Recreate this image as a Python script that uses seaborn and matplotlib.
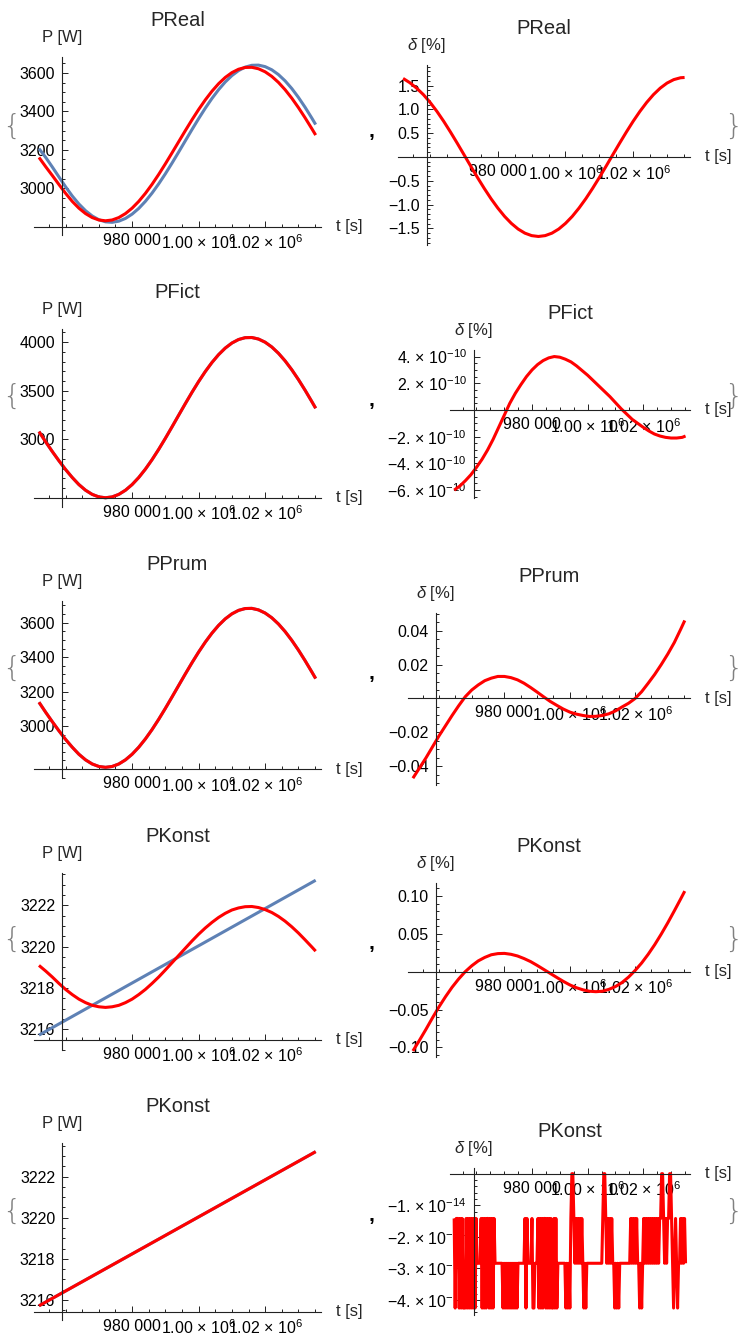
import numpy as np
import matplotlib
matplotlib.use("Agg")
import matplotlib.pyplot as plt
from matplotlib.ticker import MultipleLocator
import seaborn as sns

# ---------------------------------------------------------------- data
# sample times of the power curves [s]
t = [952000, 954000, 956000, 958000, 960000, 962000, 964000, 966000, 968000,
     970000, 972000, 974000, 976000, 978000, 980000, 982000, 984000, 986000,
     988000, 990000, 992000, 994000, 996000, 998000, 1000000, 1002000,
     1004000, 1006000, 1008000, 1010000, 1012000, 1014000, 1016000, 1018000,
     1020000, 1022000, 1024000, 1026000, 1028000, 1030000, 1032000, 1034000,
     1035200]

# PReal: reference power (blue), fitted power (red) [W], deviation [%]
preal_ref = [3206, 3160.5, 3110.3, 3058.5, 3007.1, 2959.2, 2917.5, 2882.6,
             2855.1, 2835.6, 2824.5, 2822.0, 2828.0, 2842.3, 2864.7, 2894.5,
             2931.4, 2974.3, 3022.5, 3074.8, 3130.4, 3188.0, 3246.6, 3305.0,
             3361.9, 3416.2, 3466.9, 3512.7, 3552.8, 3586.1, 3612.2, 3630.3,
             3639.8, 3640.7, 3632.9, 3616.4, 3591.5, 3558.8, 3519.1, 3472.9,
             3421.5, 3366.0, 3331.1]
preal_fit = [3160, 3112, 3066, 3019, 2973, 2931.1, 2895.8, 2867.5, 2846.8,
             2834.2, 2830, 2834.2, 2846.8, 2867.5, 2895.8, 2931.1, 2972.9,
             3020.0, 3071.6, 3126.5, 3183.6, 3241.6, 3299.4, 3355.8, 3409.5,
             3459.4, 3504.5, 3543.8, 3576.4, 3601.7, 3619.2, 3628.5, 3629.3,
             3621.7, 3605.9, 3582.1, 3550.8, 3512.8, 3468.9, 3419.8, 3366.8,
             3310.9, 3276.4]
preal_delta = [1.65, 1.56, 1.446, 1.310, 1.146, 0.958, 0.750, 0.525, 0.290,
               0.049, -0.194, -0.432, -0.661, -0.877, -1.073, -1.248, -1.395,
               -1.514, -1.600, -1.652, -1.670, -1.652, -1.600, -1.514, -1.395,
               -1.248, -1.073, -0.877, -0.661, -0.432, -0.194, 0.049, 0.290,
               0.525, 0.750, 0.958, 1.146, 1.310, 1.446, 1.552, 1.625, 1.664,
               1.670]

# PFict
pfict_fit = [3080, 2975, 2875, 2780, 2690, 2608.3, 2535.5, 2477.2, 2434.6,
             2408.7, 2400, 2408.7, 2434.6, 2477.2, 2535.5, 2608.3, 2694.3,
             2791.4, 2897.6, 3010.7, 3128.3, 3248.0, 3367.0, 3483.1, 3593.8,
             3696.6, 3789.4, 3870.3, 3937.6, 3989.7, 4025.8, 4044.9, 4046.6,
             4030.9, 3998.3, 3949.3, 3884.9, 3806.7, 3716.1, 3615.1, 3505.8,
             3390.6, 3319.7]
pfict_ref = [3080, 2975, 2875, 2780, 2690, 2608.3, 2535.5, 2477.2, 2434.6,
             2408.7, 2400, 2408.7, 2434.6, 2477.2, 2535.5, 2608.3, 2694.3,
             2791.4, 2897.6, 3010.7, 3128.3, 3248.0, 3367.0, 3483.1, 3593.8,
             3696.6, 3789.4, 3870.3, 3937.6, 3989.7, 4025.8, 4044.9, 4046.6,
             4030.9, 3998.3, 3949.3, 3884.9, 3806.7, 3716.1, 3615.1, 3505.8,
             3390.6, 3319.7]
pfict_delta = [-6.0e-10, -5.7e-10, -5.3e-10, -4.85e-10, -4.3e-10, -3.7e-10,
               -3.0e-10, -2.2e-10, -1.3e-10, -0.4e-10, 0.5e-10, 1.25e-10,
               1.9e-10, 2.5e-10, 3.0e-10, 3.4e-10, 3.7e-10, 3.9e-10, 4.0e-10,
               3.95e-10, 3.8e-10, 3.6e-10, 3.3e-10, 2.95e-10, 2.6e-10,
               2.2e-10, 1.8e-10, 1.4e-10, 1.0e-10, 0.55e-10, 0.1e-10,
               -0.3e-10, -0.7e-10, -1.0e-10, -1.3e-10, -1.57e-10, -1.8e-10,
               -1.95e-10, -2.05e-10, -2.1e-10, -2.1e-10, -2.05e-10, -1.95e-10]

# PPrum
pprum_fit = [3138, 3080, 3025, 2972, 2922, 2876.8, 2836.0, 2803.3, 2779.4,
             2764.9, 2760, 2764.9, 2779.4, 2803.3, 2836.0, 2876.8, 2925.0,
             2979.4, 3039.0, 3102.4, 3168.4, 3235.4, 3302.2, 3367.3, 3429.3,
             3487.0, 3539.0, 3584.4, 3622.1, 3651.3, 3671.5, 3682.2, 3683.2,
             3674.4, 3656.1, 3628.7, 3592.6, 3548.7, 3497.9, 3441.3, 3380.0,
             3315.4, 3275.6]
pprum_ref = [3138, 3080, 3025, 2972, 2922, 2876.8, 2836.0, 2803.3, 2779.4,
             2764.9, 2760, 2764.9, 2779.4, 2803.3, 2836.0, 2876.8, 2925.0,
             2979.4, 3039.0, 3102.4, 3168.4, 3235.4, 3302.2, 3367.3, 3429.3,
             3487.0, 3539.0, 3584.4, 3622.1, 3651.3, 3671.5, 3682.2, 3683.2,
             3674.4, 3656.1, 3628.7, 3592.6, 3548.7, 3497.9, 3441.3, 3380.0,
             3315.4, 3275.6]
pprum_delta = [-0.047, -0.041, -0.035, -0.0285, -0.022, -0.016, -0.010,
               -0.0043, 0.001, 0.005, 0.008, 0.0105, 0.012, 0.013, 0.013,
               0.0123, 0.011, 0.009, 0.0065, 0.0038, 0.001, -0.0017, -0.004,
               -0.0062, -0.008, -0.0092, -0.010, -0.0106, -0.0105, -0.010,
               -0.009, -0.0073, -0.005, -0.0028, 0.000, 0.004, 0.009, 0.0142,
               0.020, 0.0262, 0.033, 0.041, 0.046]

# PKonst: linear reference (blue) against the daily curve (red)
pkonst_ref = [3215.72, 3215.90, 3216.08, 3216.26, 3216.44, 3216.62, 3216.80,
              3216.98, 3217.16, 3217.34, 3217.52, 3217.70, 3217.88, 3218.06,
              3218.24, 3218.42, 3218.60, 3218.78, 3218.96, 3219.14, 3219.32,
              3219.50, 3219.68, 3219.86, 3220.04, 3220.22, 3220.40, 3220.58,
              3220.76, 3220.94, 3221.12, 3221.30, 3221.48, 3221.66, 3221.84,
              3222.02, 3222.20, 3222.38, 3222.56, 3222.74, 3222.92, 3223.10,
              3223.21]
pkonst_fit = [3219.09, 3218.82, 3218.53, 3218.22, 3217.93, 3217.68, 3217.46,
              3217.29, 3217.16, 3217.09, 3217.06, 3217.09, 3217.16, 3217.29,
              3217.46, 3217.68, 3217.93, 3218.22, 3218.53, 3218.87, 3219.22,
              3219.57, 3219.92, 3220.27, 3220.60, 3220.90, 3221.17, 3221.41,
              3221.61, 3221.77, 3221.87, 3221.93, 3221.94, 3221.89, 3221.79,
              3221.65, 3221.46, 3221.23, 3220.96, 3220.66, 3220.33, 3219.99,
              3219.78]
pkonst_delta = [-0.1047, -0.0907, -0.0761, -0.0609, -0.0463, -0.0329, -0.0205,
                -0.0096, 0.0000, 0.0078, 0.0143, 0.0189, 0.0224, 0.0239,
                0.0242, 0.0230, 0.0208, 0.0174, 0.0134, 0.0084, 0.0031,
                -0.0022, -0.0075, -0.0127, -0.0174, -0.0211, -0.0239, -0.0258,
                -0.0264, -0.0258, -0.0233, -0.0196, -0.0143, -0.0071, 0.0016,
                0.0115, 0.0230, 0.0357, 0.0497, 0.0646, 0.0804, 0.0966, 0.1065]

# PKonst fitted with the linear model itself
pkonst_lin = [3215.72, 3215.90, 3216.08, 3216.26, 3216.44, 3216.62, 3216.80,
              3216.98, 3217.16, 3217.34, 3217.52, 3217.70, 3217.88, 3218.06,
              3218.24, 3218.42, 3218.60, 3218.78, 3218.96, 3219.14, 3219.32,
              3219.50, 3219.68, 3219.86, 3220.04, 3220.22, 3220.40, 3220.58,
              3220.76, 3220.94, 3221.12, 3221.30, 3221.48, 3221.66, 3221.84,
              3222.02, 3222.20, 3222.38, 3222.56, 3222.74, 3222.92, 3223.10,
              3223.21]

# round-off residual: level index per sample (0 = exact, 1..3 = ulp steps)
roundoff_levels = [0.0, -1.42e-14, -2.84e-14, -4.26e-14]
roundoff_codes = [
    "131", "11", "31313", "33", "13131313131", "2222", "13131311313131",
    "22222222", "323232323232323", "2222222", "131", "2222", "13", "3222",
    "13131311313131331313", "22222222", "32323", "1001", "212121212", "323",
    "2222222222222222", "1001", "2121212", "2323232", "2222222222",
    "12121212", "23232", "12121212121212121", "1001", "2121", "1001",
    "2321232", "2121212",
]

x_ticks = [980000, 1000000, 1020000]
x_tick_labels = ["980 000", "1.00 × $\\mathregular{10^{6}}$",
                 "1.02 × $\\mathregular{10^{6}}$"]
titles = ["PReal", "PFict", "PPrum", "PKonst", "PKonst"]

# ---------------------------------------------------------------- style
sns.set_style("white")
plt.rcParams["font.family"] = ["Liberation Sans", "DejaVu Sans"]
plt.rcParams["mathtext.fontset"] = "custom"
plt.rcParams["mathtext.rm"] = "Liberation Sans"
plt.rcParams["mathtext.it"] = "Liberation Sans:italic"
plt.rcParams["mathtext.bf"] = "Liberation Sans:bold"

W, H = 742, 1338
fig = plt.figure(figsize=(W / 100, H / 100), dpi=100)
fig.patch.set_facecolor("white")

BLUE = "#5E81B5"
RED = "#FF0000"
LW = 2.2
AXIS_COL = "#222222"
XLIM = (950500, 1036800)
Y_AXIS_T = 959000
TICK_FS = 11.5
LABEL_FS = 12
TITLE_FS = 14.5


def dec_labels(vals, nd):
    return [f"{v:.{nd}f}".replace("-", "\u2212") for v in vals]


def sci_labels(vals, exp):
    out = []
    for v in vals:
        m = int(round(abs(v) / 10.0 ** exp))
        sign = "\u2212" if v < 0 else ""
        out.append(f"{sign}{m}. × $\\mathregular{{10^{{{exp}}}}}$")
    return out


def panel(box, ylim, y0, yticks, ylabels, yminor, curves, title, ylab):
    xl, xr, top, bottom = box
    ax = fig.add_axes([xl / W, 1 - bottom / H, (xr - xl) / W, (bottom - top) / H])
    ax.patch.set_alpha(0)
    for xs, ys, col in curves:
        sns.lineplot(x=xs, y=ys, ax=ax, color=col, linewidth=LW,
                     estimator=None, sort=False, solid_capstyle="butt")
    ax.set_xlim(*XLIM)
    ax.set_ylim(*ylim)
    ax.set_xlabel("")
    ax.set_ylabel("")
    for s in ("top", "right"):
        ax.spines[s].set_visible(False)
    ax.spines["left"].set_position(("data", Y_AXIS_T))
    ax.spines["bottom"].set_position(("data", y0))
    for s in ("left", "bottom"):
        ax.spines[s].set_color(AXIS_COL)
        ax.spines[s].set_linewidth(0.8)
    ax.set_xticks(x_ticks, x_tick_labels)
    ax.xaxis.set_minor_locator(MultipleLocator(5000))
    ax.set_yticks(yticks, ylabels)
    ax.yaxis.set_minor_locator(MultipleLocator(yminor))
    ax.tick_params(which="both", direction="in", color=AXIS_COL, width=0.7,
                   bottom=True, left=True, top=False, right=False,
                   labelsize=TICK_FS, labelcolor="black", pad=5)
    ax.tick_params(which="major", length=4.0)
    ax.tick_params(which="minor", length=2.2)
    ax.grid(False)
    ax.annotate(title, xy=(0.5, 1), xycoords="axes fraction",
                xytext=(0, 26.6), textcoords="offset points",
                ha="center", va="center", fontsize=TITLE_FS)
    ax.annotate(ylab, xy=(Y_AXIS_T, ylim[1]), xycoords="data",
                xytext=(0, 13.7), textcoords="offset points",
                ha="center", va="center", fontsize=LABEL_FS,
                annotation_clip=False)
    ax.annotate("t [s]", xy=(1, y0), xycoords=("axes fraction", "data"),
                xytext=(11, 0), textcoords="offset points",
                ha="left", va="center", fontsize=LABEL_FS,
                annotation_clip=False)
    return ax


P_LAB = "P [W]"
D_LAB = "$\\delta$ [%]"

# row 1: PReal
panel((34, 321, 57, 235), (2756, 3683), 2800,
      [3000, 3200, 3400, 3600], ["3000", "3200", "3400", "3600"], 50,
      [(t, preal_ref, BLUE), (t, preal_fit, RED)], titles[0], P_LAB)
yt = [-1.5, -1.0, -0.5, 0.5, 1.0, 1.5]
panel((398, 690, 65, 245), (-1.849, 1.932), 0, yt, dec_labels(yt, 1), 0.1,
      [(t, preal_delta, RED)], titles[0], D_LAB)

# row 2: PFict
panel((34, 321, 329, 507), (2305, 4134), 2400,
      [3000, 3500, 4000], ["3000", "3500", "4000"], 100,
      [(t, pfict_ref, BLUE), (t, pfict_fit, RED)], titles[1], P_LAB)
yt = [-6e-10, -4e-10, -2e-10, 2e-10, 4e-10]
panel((450, 690, 350, 498), (-6.59e-10, 4.49e-10), 0, yt, sci_labels(yt, -10),
      0.5e-10, [(t, pfict_delta, RED)], titles[1], D_LAB)

# row 3: PPrum
panel((34, 321, 601, 778), (2698, 3726), 2750,
      [3000, 3200, 3400, 3600], ["3000", "3200", "3400", "3600"], 50,
      [(t, pprum_ref, BLUE), (t, pprum_fit, RED)], titles[2], P_LAB)
yt = [-0.04, -0.02, 0.02, 0.04]
panel((408, 690, 613, 785), (-0.051, 0.0504), 0, yt, dec_labels(yt, 2), 0.005,
      [(t, pprum_delta, RED)], titles[2], D_LAB)

# row 4: PKonst against the daily curve
panel((34, 321, 873, 1050), (3215.0, 3223.56), 3215.5,
      [3216, 3218, 3220, 3222], ["3216", "3218", "3220", "3222"], 0.5,
      [(t, pkonst_ref, BLUE), (t, pkonst_fit, RED)], titles[3], P_LAB)
yt = [-0.10, -0.05, 0.05, 0.10]
panel((408, 690, 883, 1057), (-0.1127, 0.1172), 0, yt, dec_labels(yt, 2), 0.01,
      [(t, pkonst_delta, RED)], titles[3], D_LAB)

# row 5: PKonst against itself
panel((34, 321, 1143, 1320), (3215.03, 3223.63), 3215.43,
      [3216, 3218, 3220, 3222], ["3216", "3218", "3220", "3222"], 0.5,
      [(t, pkonst_ref, BLUE), (t, pkonst_lin, RED)], titles[4], P_LAB)
codes = "".join(roundoff_codes)
t_noise = np.linspace(t[0], t[-1], len(codes))
d_noise = [roundoff_levels[int(c)] for c in codes]
yt = [-4e-14, -3e-14, -2e-14, -1e-14]
panel((450, 690, 1168, 1315), (-4.48e-14, 0.18e-14), 0, yt, sci_labels(yt, -14),
      0.2e-14, [(t_noise, d_noise, RED)], titles[4], D_LAB)

# list braces and separators around each pair
for yc in [127, 397, 669, 940, 1212]:
    fig.text(11 / W, 1 - yc / H, "{", ha="center", va="center",
             fontsize=21, color="#808080", family="DejaVu Sans",
             fontweight=200)
    fig.text(733 / W, 1 - yc / H, "}", ha="center", va="center",
             fontsize=21, color="#808080", family="DejaVu Sans",
             fontweight=200)
    fig.text(371 / W, 1 - (yc + 4) / H, ",", ha="center", va="center",
             fontsize=15, fontweight="bold", color="black")

fig.savefig("out.png", dpi=100, facecolor="white")
